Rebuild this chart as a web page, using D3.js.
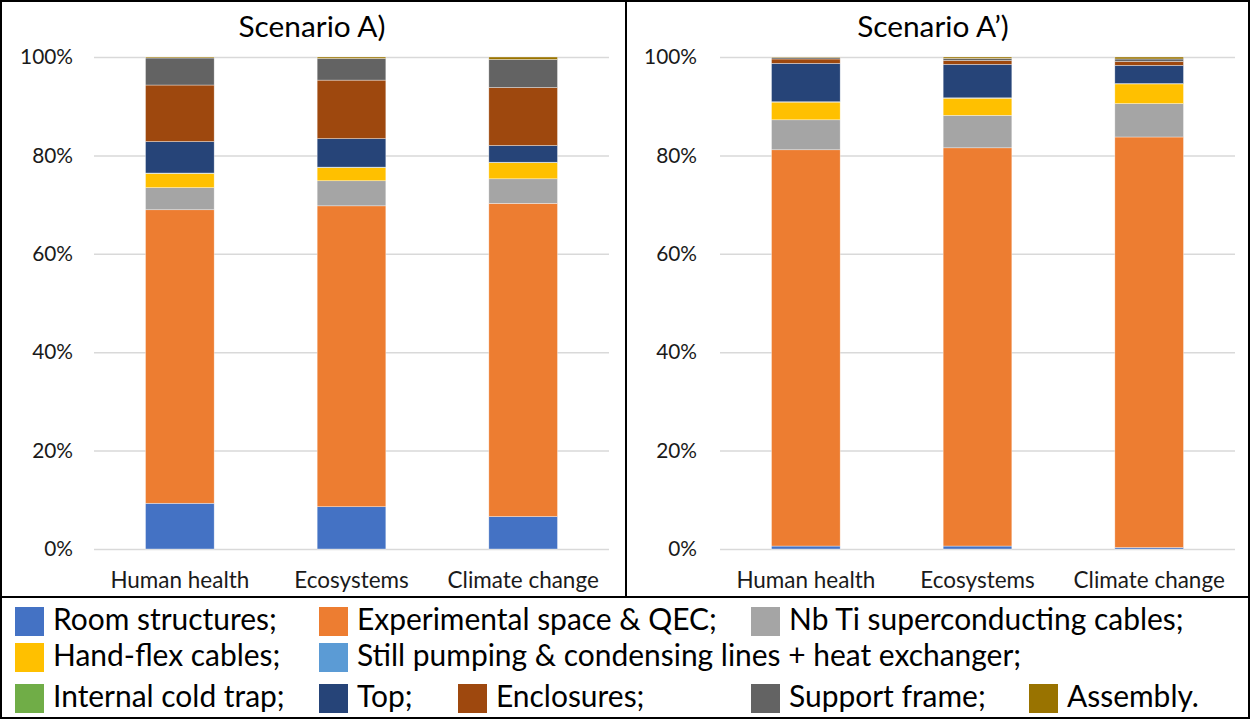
<!DOCTYPE html>
<html>
<head>
<meta charset="utf-8">
<script src="https://cdn.jsdelivr.net/npm/d3@7"></script>
<style>
  html, body { margin: 0; padding: 0; background: #fff; }
  svg { display: block; font-family: Lato, "DejaVu Sans", sans-serif; }
</style>
</head>
<body>
<svg id="chart" width="1250" height="719"></svg>
<script>
// ---------- DATA ----------
const categories = ["Human health", "Ecosystems", "Climate change"];
const scenarioTitles = ["Scenario A)", "Scenario A\u2019)"];
const seriesNames = [
  "Room structures;", "Experimental space & QEC;", "Nb Ti superconducting cables;",
  "Hand-flex cables;", "Still pumping & condensing lines + heat exchanger;",
  "Internal cold trap;", "Top;", "Enclosures;", "Support frame;", "Assembly."
];
const seriesColors = ["#4472C4", "#ED7D31", "#A5A5A5", "#FFC000", "#5B9BD5",
                      "#70AD47", "#264478", "#9E480E", "#636363", "#997300"];
const yTickValues = [0, 0.2, 0.4, 0.6, 0.8, 1];

// Scenario A (percent shares, per category)
const roomA     = [9.3, 8.6, 6.6];
const expA      = [59.7, 61.2, 63.7];
const nbtiA     = [4.5, 5.1, 5.0];
const handA     = [2.9, 2.7, 3.3];
const stillA    = [0.05, 0.05, 0.05];
const coldA     = [0.02, 0.02, 0.02];
const topA      = [6.4, 5.8, 3.4];
const enclA     = [11.5, 11.9, 11.8];
const supportA  = [5.5, 4.4, 5.7];
const assemblyA = [0.2, 0.3, 0.5];

// Scenario A'
const roomA2     = [0.6, 0.6, 0.3];
const expA2      = [80.6, 81.0, 83.5];
const nbtiA2     = [6.1, 6.6, 6.8];
const handA2     = [3.6, 3.5, 4.0];
const stillA2    = [0.05, 0.05, 0.05];
const coldA2     = [0.02, 0.02, 0.02];
const topA2      = [7.8, 6.8, 3.7];
const enclA2     = [0.9, 0.8, 0.8];
const supportA2  = [0.3, 0.4, 0.5];
const assemblyA2 = [0.1, 0.3, 0.4];

const scenarioSeries = [
  [roomA, expA, nbtiA, handA, stillA, coldA, topA, enclA, supportA, assemblyA],
  [roomA2, expA2, nbtiA2, handA2, stillA2, coldA2, topA2, enclA2, supportA2, assemblyA2]
];

// ---------- LAYOUT ----------
const W = 1250, H = 719;
const panels = [
  { x0: 94, x1: 609, titleX: 312, tickPad: 21 },
  { x0: 720, x1: 1235, titleX: 933, tickPad: 23 }
];
const yTop = 57, yBottom = 549;
const dividerX = 626, legendTop = 597;

const svg = d3.select("#chart");
svg.append("rect").attr("width", W).attr("height", H).attr("fill", "#fff");

// font fitting helper
function fitSize(text, target, base) {
  const t = svg.append("text").attr("font-size", base).text(text);
  const w = t.node().getComputedTextLength();
  t.remove();
  return base * target / w;
}
const titleSize = fitSize("Scenario A)", 147, 24);
const tickSize = fitSize("100%", 53, 20);
const catSize = fitSize("Human health", 139, 20);
const legendSize = fitSize("Room structures;", 224, 26);

const y = d3.scaleLinear().domain([0, 1]).range([yBottom, yTop]);
const stack = d3.stack().keys(seriesNames).offset(d3.stackOffsetExpand);

panels.forEach((p, si) => {
  const g = svg.append("g");
  const rows = categories.map((c, ci) => {
    const r = { category: c };
    seriesNames.forEach((s, k) => { r[s] = scenarioSeries[si][k][ci]; });
    return r;
  });
  const x = d3.scaleBand().domain(categories).range([p.x0, p.x1])
    .paddingInner(0.6).paddingOuter(0.3);

  // grid + y labels
  const ya = g.append("g").attr("transform", `translate(${p.x0},0)`)
    .call(d3.axisLeft(y).tickValues(yTickValues).tickFormat(d3.format(".0%"))
      .tickSize(-(p.x1 - p.x0)).tickPadding(p.tickPad));
  ya.select(".domain").remove();
  ya.selectAll(".tick line").attr("stroke", "#D9D9D9").attr("stroke-width", 1.5);
  ya.selectAll(".tick text").attr("font-size", tickSize).attr("fill", "#1a1a1a")
    .attr("font-family", "Lato, sans-serif");

  // bars
  const layers = stack(rows);
  g.selectAll("g.layer").data(layers).join("g").attr("class", "layer")
    .attr("fill", (d, i) => seriesColors[i])
    .selectAll("rect").data(d => d).join("rect")
    .attr("x", d => x(d.data.category))
    .attr("width", x.bandwidth())
    .attr("y", d => y(d[1]))
    .attr("height", d => Math.max(0, y(d[0]) - y(d[1])))
    .attr("stroke", "#ffffff").attr("stroke-width", 0.6).attr("stroke-opacity", 0.6);

  // category axis
  const xa = g.append("g").attr("transform", `translate(0,${yBottom})`)
    .call(d3.axisBottom(x).tickSize(0));
  xa.select(".domain").remove();
  xa.selectAll(".tick text").attr("y", 39).attr("dy", 0)
    .attr("font-size", catSize).attr("fill", "#1a1a1a").attr("font-family", "Lato, sans-serif");

  // title
  g.append("text").attr("x", p.titleX).attr("y", 37).attr("text-anchor", "middle")
    .attr("font-size", titleSize).attr("fill", "#000").text(scenarioTitles[si]);
});

// borders
svg.append("rect").attr("x", 1).attr("y", 1).attr("width", W - 2).attr("height", H - 2)
  .attr("fill", "none").attr("stroke", "#000").attr("stroke-width", 2);
svg.append("line").attr("x1", dividerX).attr("x2", dividerX).attr("y1", 0).attr("y2", legendTop)
  .attr("stroke", "#000").attr("stroke-width", 2);
svg.append("line").attr("x1", 0).attr("x2", W).attr("y1", legendTop).attr("y2", legendTop)
  .attr("stroke", "#000").attr("stroke-width", 2);

// legend
const legendPos = [
  [15, 607], [319, 607], [751, 607],
  [15, 643], [319, 643],
  [15, 684], [319, 684], [458, 684], [751, 684], [1029, 684]
];
const lg = svg.append("g");
const items = lg.selectAll("g").data(seriesNames).join("g")
  .attr("transform", (d, i) => `translate(${legendPos[i][0]},${legendPos[i][1]})`);
items.append("rect").attr("width", 29).attr("height", 29).attr("fill", (d, i) => seriesColors[i]);
items.append("text").attr("x", 38).attr("y", 23).attr("font-size", legendSize)
  .attr("fill", "#000").text(d => d);
</script>
</body>
</html>
